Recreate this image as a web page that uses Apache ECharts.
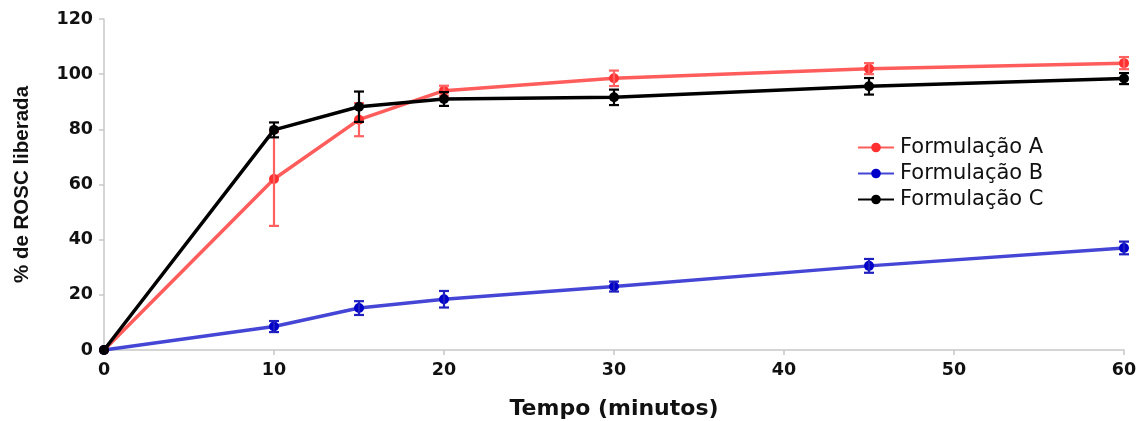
<!DOCTYPE html>
<html><head><meta charset="utf-8">
<script src="https://cdn.jsdelivr.net/npm/echarts@6/dist/echarts.min.js"></script>
<style>html,body{margin:0;padding:0;background:#fff}#c{width:1143px;height:421px}</style>
</head><body><div id="c"></div>
<script>
const times = [0, 10, 15, 20, 30, 45, 60];
const seriesNames = ['Formulação A', 'Formulação B', 'Formulação C'];
const valuesA = [0, 62, 83.5, 94, 98.5, 102, 104];
const errA    = [0, 17, 6, 1.8, 2.8, 2, 2.2];
const valuesB = [0, 8.5, 15.2, 18.4, 23, 30.5, 37];
const errB    = [0, 2, 2.5, 3, 1.8, 2.5, 2.3];
const valuesC = [0, 79.8, 88.2, 91, 91.6, 95.6, 98.4];
const errC    = [0, 2.7, 5.5, 2.5, 2.8, 3, 2];
const xTicks = [0, 10, 20, 30, 40, 50, 60];
const yTicks = [0, 20, 40, 60, 80, 100, 120];

const lineColors = ['#ff5c5c', '#4646d6', '#000000'];
const dotColors = ['#ff3030', '#0000c8', '#000000'];
const barColors = ['#ff6060', '#2020c0', '#000000'];

function pairs(v){ return times.map((t,i)=>[t, v[i]]); }
function errData(v,e){ return times.map((t,i)=>[t, v[i]-e[i], v[i]+e[i]]); }

function errSeries(v, e, color){
  return {
    type: 'custom',
    data: errData(v, e),
    silent: true,
    z: 3,
    renderItem: function(params, api){
      const x = api.value(0);
      const lo = api.coord([x, api.value(1)]);
      const hi = api.coord([x, api.value(2)]);
      const w = 5;
      const st = {stroke: color, lineWidth: 2.2};
      return {type:'group', children:[
        {type:'line', shape:{x1:lo[0], y1:lo[1], x2:hi[0], y2:hi[1]}, style: st},
        {type:'line', shape:{x1:lo[0]-w, y1:lo[1], x2:lo[0]+w, y2:lo[1]}, style: st},
        {type:'line', shape:{x1:hi[0]-w, y1:hi[1], x2:hi[0]+w, y2:hi[1]}, style: st}
      ]};
    }
  };
}

function lineSeries(name, v, idx){
  return {
    name: name, type: 'line', data: pairs(v),
    symbol: 'circle', symbolSize: 10, z: 2 + (idx===2?2:0),
    lineStyle: {color: lineColors[idx], width: 3.5},
    itemStyle: {color: dotColors[idx]}
  };
}

const chart = echarts.init(document.getElementById('c'), null, {renderer:'canvas'});
const labelFont = {fontFamily: 'DejaVu Sans, sans-serif', fontWeight: 'bold', fontSize: 17.5, color: '#111'};
chart.setOption({
  animation: false,
  backgroundColor: '#fff',
  grid: {left: 104, right: 19, top: 19, bottom: 71, containLabel: false, outerBoundsMode: 'none'},
  legend: {
    orient: 'vertical', left: 857, top: 137, itemGap: 5, padding: 0,
    itemWidth: 36, itemHeight: 12,
    data: seriesNames,
    textStyle: {fontFamily: 'DejaVu Sans, sans-serif', fontSize: 21, color: '#111', padding: [0,0,0,1]}
  },
  xAxis: {
    type: 'value', min: 0, max: 60, interval: 10,
    name: 'Tempo (minutos)', nameLocation: 'middle', nameGap: 48,
    nameTextStyle: {fontFamily: 'DejaVu Sans, sans-serif', fontWeight: 'bold', fontSize: 22, color: '#111'},
    axisLine: {lineStyle: {color: '#c8c8c8', width: 1.5}},
    axisTick: {lineStyle: {color: '#c8c8c8', width: 1.5}, length: 5},
    axisLabel: Object.assign({margin: 11}, labelFont),
    splitLine: {show: false}
  },
  yAxis: {
    type: 'value', min: 0, max: 120, interval: 20,
    name: '% de ROSC liberada', nameLocation: 'middle', nameGap: 71,
    nameTextStyle: {fontFamily: 'Liberation Sans, Arial, sans-serif', fontWeight: 'bold', fontSize: 20.5, color: '#111'},
    axisLine: {show: true, lineStyle: {color: '#c8c8c8', width: 1.5}},
    axisTick: {show: true, lineStyle: {color: '#c8c8c8', width: 1.5}, length: 5},
    axisLabel: Object.assign({margin: 11}, labelFont),
    splitLine: {show: false}
  },
  series: [
    lineSeries(seriesNames[0], valuesA, 0),
    lineSeries(seriesNames[1], valuesB, 1),
    lineSeries(seriesNames[2], valuesC, 2),
    errSeries(valuesA, errA, barColors[0]),
    errSeries(valuesB, errB, barColors[1]),
    errSeries(valuesC, errC, barColors[2])
  ]
});
</script></body></html>
